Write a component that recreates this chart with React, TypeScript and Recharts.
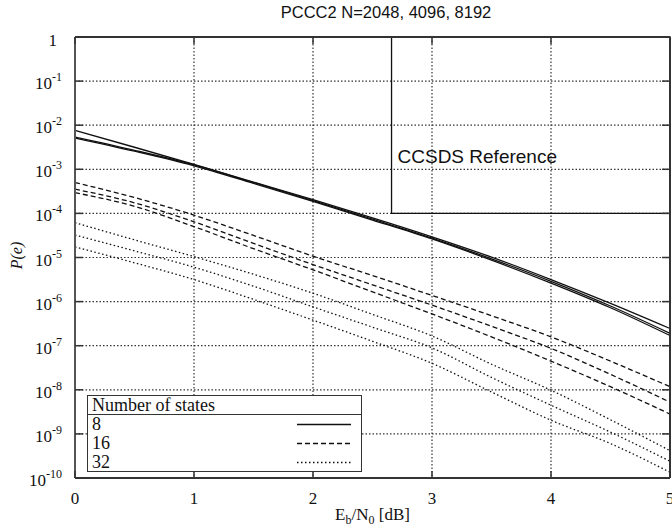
import { LineChart, Line, XAxis, YAxis, ReferenceArea, ReferenceLine, CartesianGrid, Label } from "recharts";

// Eb/N0 in dB
const EBN0 = [0, 0.5, 1, 1.5, 2, 2.5, 3, 3.5, 4, 4.5, 5];

// log10 P(e), one list per curve (N = 2048, 4096, 8192)
const STATES8_N2048 = [-2.12, -2.5, -2.89, -3.29, -3.69, -4.1, -4.53, -4.99, -5.5, -6.04, -6.61];
const STATES8_N4096 = [-2.27, -2.57, -2.9, -3.3, -3.71, -4.13, -4.56, -5.03, -5.54, -6.1, -6.72];
const STATES8_N8192 = [-2.29, -2.59, -2.92, -3.32, -3.73, -4.15, -4.58, -5.06, -5.58, -6.14, -6.77];
const STATES16_N2048 = [-3.3, -3.64, -4.04, -4.5, -4.97, -5.41, -5.86, -6.32, -6.8, -7.35, -7.93];
const STATES16_N4096 = [-3.45, -3.76, -4.19, -4.68, -5.16, -5.62, -6.08, -6.56, -7.06, -7.65, -8.28];
const STATES16_N8192 = [-3.53, -3.84, -4.3, -4.8, -5.28, -5.78, -6.28, -6.8, -7.35, -7.93, -8.55];
const STATES32_N2048 = [-4.21, -4.6, -4.98, -5.38, -5.81, -6.29, -6.78, -7.42, -8.01, -8.68, -9.38];
const STATES32_N4096 = [-4.49, -4.85, -5.22, -5.65, -6.12, -6.58, -7.05, -7.72, -8.35, -8.96, -9.62];
const STATES32_N8192 = [-4.76, -5.12, -5.5, -5.95, -6.42, -6.9, -7.4, -8.05, -8.69, -9.22, -9.87];

const X_TICKS = [0, 1, 2, 3, 4, 5];
const Y_TICKS = [1, 1e-1, 1e-2, 1e-3, 1e-4, 1e-5, 1e-6, 1e-7, 1e-8, 1e-9, 1e-10];

const CCSDS_BOX = { x1: 2.66, x2: 5, y1: 1e-4, y2: 1 };

const DASHED = "5 3";
const DOTTED = "1.5 2.5";
const GRID_DOTS = "1.5 2";

const SERIES = [
  { key: "s8a", values: STATES8_N2048, dash: undefined },
  { key: "s8b", values: STATES8_N4096, dash: undefined },
  { key: "s8c", values: STATES8_N8192, dash: undefined },
  { key: "s16a", values: STATES16_N2048, dash: DASHED },
  { key: "s16b", values: STATES16_N4096, dash: DASHED },
  { key: "s16c", values: STATES16_N8192, dash: DASHED },
  { key: "s32a", values: STATES32_N2048, dash: DOTTED },
  { key: "s32b", values: STATES32_N4096, dash: DOTTED },
  { key: "s32c", values: STATES32_N8192, dash: DOTTED },
];

const LEGEND_ROWS = [
  { label: "8", dash: undefined },
  { label: "16", dash: DASHED },
  { label: "32", dash: DOTTED },
];

const data = EBN0.map((x, i) => {
  const row: Record<string, number> = { x };
  SERIES.forEach((s) => { row[s.key] = Math.pow(10, s.values[i]); });
  return row;
});

const W = 672;
const H = 529;
const MARGIN = { top: 37, right: 2, left: 0, bottom: 0 };
const Y_AXIS_W = 75;
const X_AXIS_H = 51;
const PLOT_LEFT = MARGIN.left + Y_AXIS_W;
const PLOT_RIGHT = W - MARGIN.right;
const PLOT_TOP = MARGIN.top;
const PLOT_BOTTOM = H - X_AXIS_H;

const SERIF = "'Liberation Serif', 'Times New Roman', serif";
const SANS = "'Liberation Sans', Arial, sans-serif";
const INK = "#111";
const FRAME = "#333";
const GRID = "#333";

function PowerTick({ y, payload }: any) {
  const exp = Math.round(Math.log10(payload.value));
  return (
    <g>
      <line x1={PLOT_LEFT} x2={PLOT_LEFT + 8} y1={y} y2={y} stroke={FRAME} strokeWidth={1.5} />
      <line x1={PLOT_RIGHT - 8} x2={PLOT_RIGHT} y1={y} y2={y} stroke={FRAME} strokeWidth={1.5} />
      {exp === 0 ? (
        <text x={57} y={y + 9} textAnchor="end" fontFamily={SERIF} fontSize={17} fill={INK}>1</text>
      ) : (
        <text x={62} y={y + 8} textAnchor="end" fontFamily={SERIF} fontSize={17} fill={INK}>
          10<tspan dy={-8} fontSize={12}>{exp}</tspan>
        </text>
      )}
    </g>
  );
}

function DbTick({ x, payload }: any) {
  return (
    <g>
      <line x1={x} x2={x} y1={PLOT_BOTTOM} y2={PLOT_BOTTOM - 7} stroke={FRAME} strokeWidth={1.5} />
      <line x1={x} x2={x} y1={PLOT_TOP} y2={PLOT_TOP + 7} stroke={FRAME} strokeWidth={1.5} />
      <text x={x} y={PLOT_BOTTOM + 26} textAnchor="middle" fontFamily={SERIF} fontSize={17} fill={INK}>
        {payload.value}
      </text>
    </g>
  );
}

function XTitle({ viewBox }: any) {
  const cx = viewBox.x + viewBox.width / 2;
  return (
    <text x={cx} y={viewBox.y + 42} textAnchor="middle" fontFamily={SERIF} fontSize={17} fill={INK}>
      E<tspan dy={4} fontSize={12}>b</tspan>
      <tspan dy={-4}>/N</tspan>
      <tspan dy={4} fontSize={12}>0</tspan>
      <tspan dy={-4}> [dB]</tspan>
    </text>
  );
}

function YTitle({ viewBox }: any) {
  const cy = viewBox.y + viewBox.height / 2 - 2;
  return (
    <text x={16} y={cy} transform={`rotate(-90 16 ${cy})`} textAnchor="middle" dominantBaseline="central"
      fontFamily={SERIF} fontStyle="italic" fontSize={16} fill={INK}>
      P(e)
    </text>
  );
}

function CcsdsLabel({ viewBox }: any) {
  return (
    <text x={viewBox.x + 6} y={viewBox.y + 126} fontFamily={SANS} fontSize={19} fill={INK}>
      CCSDS Reference
    </text>
  );
}

function StatesLegend() {
  return (
    <div style={{
      position: "absolute", left: 87, top: 395, width: 275, height: 77, boxSizing: "border-box",
      border: `1.5px solid ${FRAME}`, background: "#fff", fontFamily: SERIF, fontSize: 18, color: INK,
    }}>
      <div style={{ height: 18, lineHeight: "18px", paddingLeft: 4, borderBottom: `1.5px solid ${FRAME}` }}>
        Number of states
      </div>
      {LEGEND_ROWS.map((r) => (
        <div key={r.label} style={{ height: 19, display: "flex", alignItems: "center" }}>
          <span style={{ paddingLeft: 4, flex: 1, lineHeight: "19px" }}>{r.label}</span>
          <svg width={54} height={19} style={{ marginRight: 10 }}>
            <line x1={0} x2={54} y1={9.5} y2={9.5} stroke={INK} strokeWidth={1.3} strokeDasharray={r.dash} />
          </svg>
        </div>
      ))}
    </div>
  );
}

export default function App() {
  return (
    <div style={{ position: "absolute", left: 0, top: 0, width: W, height: H, background: "#fff" }}>
      <div style={{
        position: "absolute", left: 280, width: 212, top: 3, height: 18, whiteSpace: "nowrap",
        lineHeight: "18px", textAlign: "center", fontFamily: SANS, fontSize: 16.5, color: INK,
      }}>
        PCCC2 N=2048, 4096, 8192
      </div>
      <LineChart width={W} height={H} data={data} margin={MARGIN}>
        <CartesianGrid stroke={GRID} strokeWidth={1.2} strokeDasharray={GRID_DOTS} />
        <XAxis dataKey="x" type="number" domain={[0, 5]} ticks={X_TICKS} interval={0} height={X_AXIS_H}
          axisLine={{ stroke: FRAME, strokeWidth: 2 }} tickLine={false} tick={<DbTick />}>
          <Label content={<XTitle />} />
        </XAxis>
        <YAxis scale="log" domain={[1e-10, 1]} ticks={Y_TICKS} interval={0} width={Y_AXIS_W} allowDataOverflow
          axisLine={{ stroke: "#555", strokeWidth: 2 }} tickLine={false} tick={<PowerTick />}>
          <Label content={<YTitle />} />
        </YAxis>
        {SERIES.map((s) => (
          <Line key={s.key} dataKey={s.key} type="monotone" stroke={INK} strokeWidth={1.3}
            strokeDasharray={s.dash} dot={false} isAnimationActive={false} />
        ))}
        <ReferenceArea x1={CCSDS_BOX.x1} x2={CCSDS_BOX.x2} y1={CCSDS_BOX.y1} y2={CCSDS_BOX.y2}
          fill="none" stroke={INK} strokeWidth={1.3} label={<CcsdsLabel />} />
        <ReferenceLine y={1} stroke={FRAME} strokeWidth={2} />
        <ReferenceLine x={5} stroke={FRAME} strokeWidth={2} />
      </LineChart>
      <StatesLegend />
    </div>
  );
}
